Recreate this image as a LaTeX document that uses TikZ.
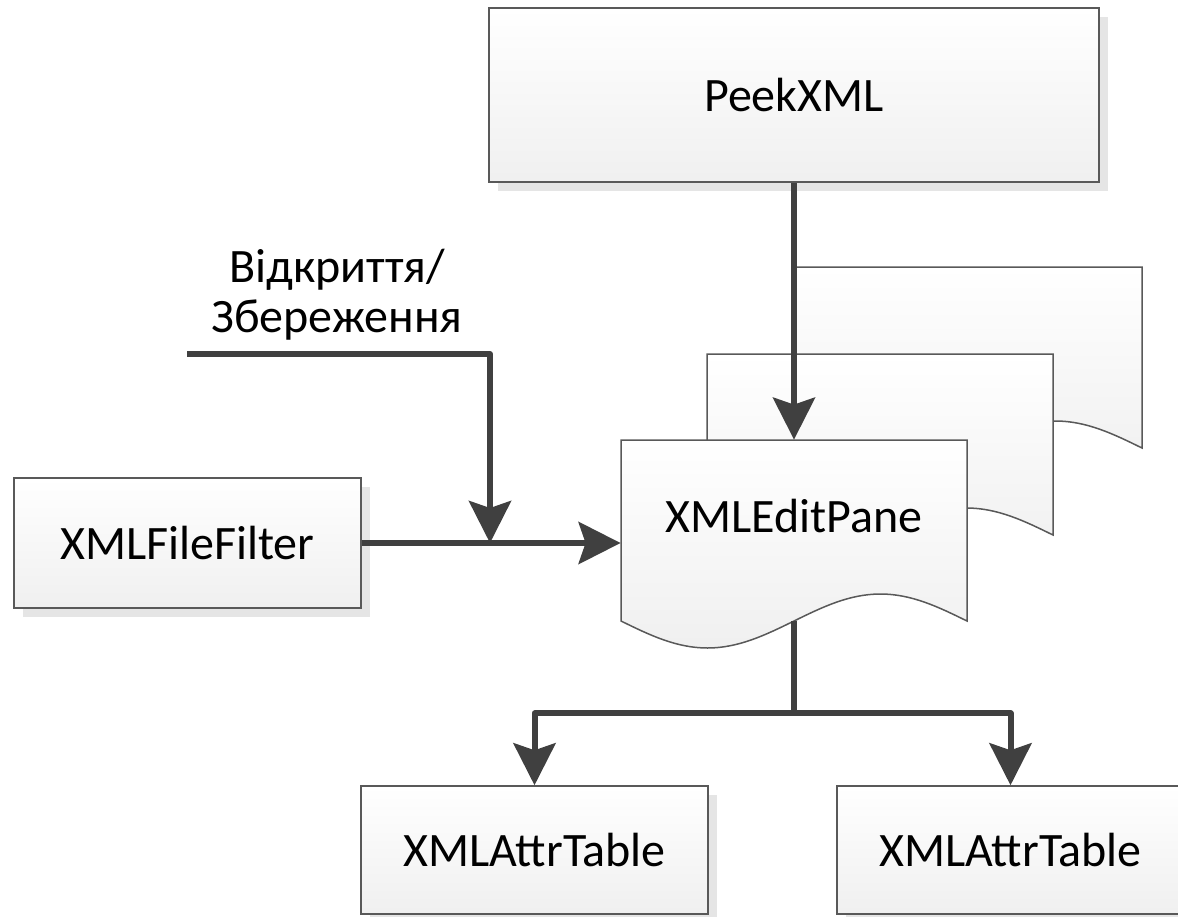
\documentclass[tikz,border=0pt]{standalone}
\usepackage{fontspec}
\setmainfont{Carlito}
\usetikzlibrary{positioning,shadows,arrows.meta}

% one page of the stacked document symbol, top-left corner at #1,#2
\newcommand{\docpage}[2]{%
  \path[pagefill] (#1,#2) -- ++(346,0) -- ++(0,181)
    sin ++(-86.5,-27) cos ++(-86.5,27) sin ++(-86.5,27) cos ++(-86.5,-27) -- cycle;}

\begin{document}
\begin{tikzpicture}[
  x=0.5pt, y=-0.5pt,
  font=\fontsize{24}{25}\selectfont,
  block/.style={rectangle, draw=black!65, line width=0.75pt,
    top color=white, bottom color=black!6,
    minimum width=173.5pt, minimum height=64pt,
    drop shadow={shadow xshift=4.5pt, shadow yshift=-4.5pt, fill=black!10, opacity=1}},
  pagefill/.style={draw=black!65, line width=0.75pt, top color=white, bottom color=black!6},
  page/.style={rectangle, minimum width=173pt, minimum height=90.5pt,
    text height=12pt, text depth=10.5pt},
  wire/.style={draw=black!75, line width=3pt, line join=round},
  flow/.style={wire, -{Stealth[length=21pt,width=21pt,inset=3.5pt]}}
]
\useasboundingbox (0,0) rectangle (1178,916);

% stacked pages, back to front
\docpage{796}{267}
\docpage{707}{354}
\docpage{621}{440}

\node[page] (edit) at (794,530.5) {XMLEditPane};
\node[block, minimum width=305pt, minimum height=87pt] (peek) at (794,95) {PeekXML};
\node[block, minimum height=65pt] (filter) at (187.5,543) {XMLFileFilter};
\node[block] (attrL) at (534.5,850) {XMLAttrTable};
\node[block] (attrR) at (1010.5,850) {XMLAttrTable};
\node[align=center] (opensavetxt) at (337,295) {Відкриття/\\Збереження};

\coordinate (opensave) at (187,354);
\coordinate (merge) at (490,543);

\draw[flow] (peek) -- (edit);
\draw[flow] (filter) -- (filter -| edit.west);
\draw[flow] (opensave) -| (merge);
\draw[wire] (edit.south) -- ++(0,92) coordinate (split);
\draw[flow] (split) -| (attrL);
\draw[flow] (split) -| (attrR);
\end{tikzpicture}
\end{document}
